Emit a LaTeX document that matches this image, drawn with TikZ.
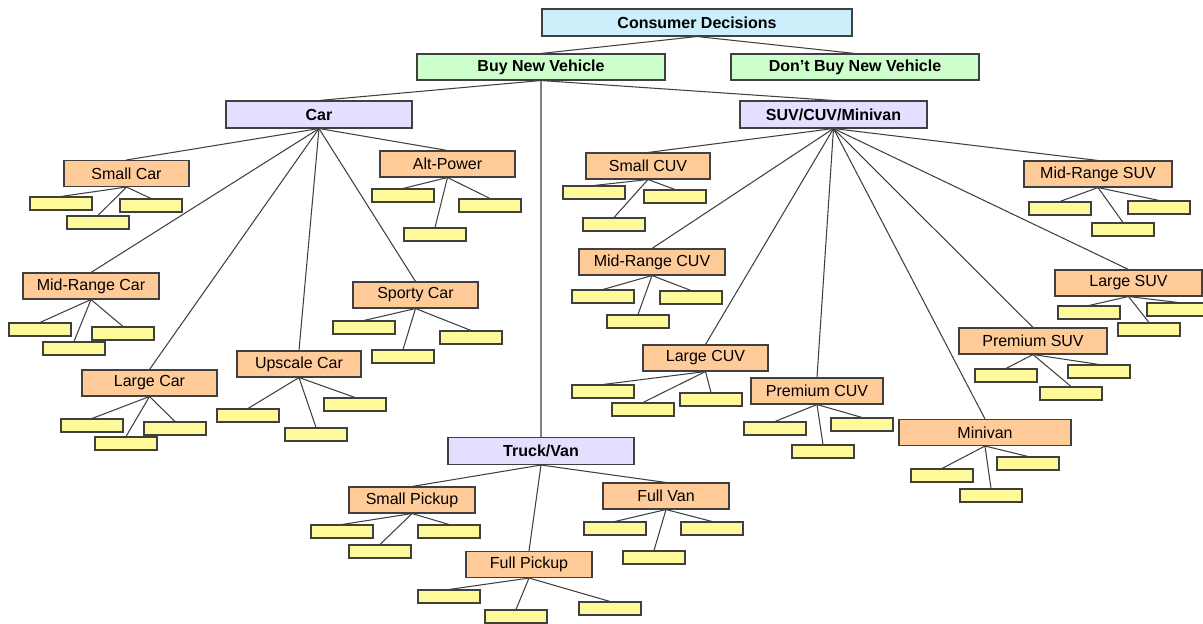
\documentclass[tikz,border=0pt]{standalone}
\usepackage{fontspec}
\setmainfont{Liberation Sans}
\usepackage{tikz}
\usetikzlibrary{positioning}
\definecolor{lavender}{HTML}{E6DEFF}

\begin{document}
\begin{tikzpicture}[
  box/.style={draw=black!75, line width=0.6pt, inner sep=0pt, minimum height=5.2mm,
    font=\fontsize{9.1}{11}\selectfont},
  root/.style={box, fill=cyan!20, font=\fontsize{9.1}{11}\selectfont\bfseries, minimum width=62mm, minimum height=5.4mm},
  choice/.style={box, fill=green!20, font=\fontsize{9.1}{11}\selectfont\bfseries, minimum width=49.6mm},
  segment/.style={box, fill=lavender, font=\fontsize{9.1}{11}\selectfont\bfseries, minimum width=37.2mm, minimum height=5.4mm},
  vclass/.style={box, fill=orange!40, minimum width=25mm},
  leaf/.style={box, fill=yellow!40, minimum width=12.4mm, minimum height=2.6mm},
  link/.style={draw=black!75, line width=0.6pt}
]
\useasboundingbox (0,0) rectangle (24.06,-12.46);

% Top of the tree
\node[root] (cd) at (13.94,-0.45) {Consumer Decisions};
\node[choice] (buy) at (10.82,-1.34) {Buy New Vehicle};
\node[choice] (nobuy) at (17.10,-1.34) {Don't Buy New Vehicle};

% Segments
\node[segment] (car) at (6.38,-2.29) {Car};
\node[segment, minimum width=37.4mm] (suv) at (16.67,-2.29) {SUV/CUV/Minivan};
\node[segment] (truck) at (10.82,-9.02) {Truck/Van};

% Car classes
\node[vclass] (smallcar) at (2.53,-3.47) {Small Car};
\node[vclass, minimum width=27mm] (altpower) at (8.95,-3.28) {Alt-Power};
\node[vclass, minimum width=27.2mm] (midcar) at (1.82,-5.72) {Mid-Range Car};
\node[vclass] (sporty) at (8.31,-5.90) {Sporty Car};
\node[vclass, minimum width=24.8mm] (upscale) at (5.98,-7.28) {Upscale Car};
\node[vclass, minimum width=27mm] (largecar) at (2.99,-7.66) {Large Car};

% SUV/CUV/Minivan classes
\node[vclass, minimum width=24.8mm] (smallcuv) at (12.96,-3.32) {Small CUV};
\node[vclass, minimum width=29.2mm] (midcuv) at (13.04,-5.24) {Mid-Range CUV};
\node[vclass] (largecuv) at (14.11,-7.16) {Large CUV};
\node[vclass, minimum width=26.4mm] (premcuv) at (16.34,-7.82) {Premium CUV};
\node[vclass, minimum width=34.4mm] (minivan) at (19.70,-8.65) {Minivan};
\node[vclass, minimum width=29.6mm] (premsuv) at (20.66,-6.82) {Premium SUV};
\node[vclass, minimum width=29.4mm] (largesuv) at (22.57,-5.66) {Large SUV};
\node[vclass, minimum width=29.6mm] (midsuv) at (21.96,-3.48) {Mid-Range SUV};

% Truck/Van classes
\node[vclass, minimum width=25.2mm] (smallpick) at (8.24,-10.00) {Small Pickup};
\node[vclass, minimum width=25.2mm] (fullvan) at (13.32,-9.92) {Full Van};
\node[vclass, minimum width=25.2mm] (fullpick) at (10.58,-11.29) {Full Pickup};

% Empty leaf boxes under each class
\node[leaf] (smallcar1) at (1.22,-4.07) {};
\node[leaf] (smallcar2) at (1.96,-4.45) {};
\node[leaf] (smallcar3) at (3.02,-4.11) {};

\node[leaf] (midcar1) at (0.80,-6.59) {};
\node[leaf] (midcar2) at (1.48,-6.97) {};
\node[leaf] (midcar3) at (2.46,-6.67) {};

\node[leaf] (altpower1) at (8.06,-3.91) {};
\node[leaf] (altpower2) at (8.70,-4.69) {};
\node[leaf] (altpower3) at (9.80,-4.11) {};

\node[leaf] (sporty1) at (7.28,-6.55) {};
\node[leaf] (sporty2) at (8.06,-7.13) {};
\node[leaf] (sporty3) at (9.42,-6.75) {};

\node[leaf] (upscale1) at (4.96,-8.31) {};
\node[leaf] (upscale2) at (6.32,-8.69) {};
\node[leaf] (upscale3) at (7.10,-8.09) {};

\node[leaf] (largecar1) at (1.84,-8.51) {};
\node[leaf] (largecar2) at (2.52,-8.87) {};
\node[leaf] (largecar3) at (3.50,-8.57) {};

\node[leaf] (smallcuv1) at (11.88,-3.85) {};
\node[leaf] (smallcuv2) at (12.28,-4.49) {};
\node[leaf] (smallcuv3) at (13.50,-3.93) {};

\node[leaf] (midcuv1) at (12.06,-5.93) {};
\node[leaf] (midcuv2) at (12.76,-6.43) {};
\node[leaf] (midcuv3) at (13.82,-5.95) {};

\node[leaf] (largecuv1) at (12.06,-7.83) {};
\node[leaf] (largecuv2) at (12.86,-8.19) {};
\node[leaf] (largecuv3) at (14.22,-7.99) {};

\node[leaf] (premcuv1) at (15.50,-8.57) {};
\node[leaf] (premcuv2) at (16.46,-9.03) {};
\node[leaf] (premcuv3) at (17.24,-8.49) {};

\node[leaf] (minivan1) at (18.84,-9.51) {};
\node[leaf] (minivan2) at (19.82,-9.91) {};
\node[leaf] (minivan3) at (20.56,-9.27) {};

\node[leaf] (premsuv1) at (20.12,-7.51) {};
\node[leaf] (premsuv2) at (21.42,-7.87) {};
\node[leaf] (premsuv3) at (21.98,-7.43) {};

\node[leaf] (largesuv1) at (21.78,-6.25) {};
\node[leaf] (largesuv2) at (22.98,-6.59) {};
\node[leaf] (largesuv3) at (23.56,-6.19) {};

\node[leaf] (midsuv1) at (21.20,-4.17) {};
\node[leaf] (midsuv2) at (22.46,-4.59) {};
\node[leaf] (midsuv3) at (23.18,-4.15) {};

\node[leaf] (smallpick1) at (6.84,-10.63) {};
\node[leaf] (smallpick2) at (7.60,-11.03) {};
\node[leaf] (smallpick3) at (8.98,-10.63) {};

\node[leaf] (fullvan1) at (12.30,-10.57) {};
\node[leaf] (fullvan2) at (13.08,-11.15) {};
\node[leaf] (fullvan3) at (14.24,-10.57) {};

\node[leaf] (fullpick1) at (8.98,-11.93) {};
\node[leaf] (fullpick2) at (10.32,-12.33) {};
\node[leaf] (fullpick3) at (12.20,-12.17) {};

% Links: top levels
\path[link] (cd.south) -- (buy.north) (cd.south) -- (nobuy.north);
\path[link] (buy.south) -- (car.north) (buy.south) -- (suv.north) (buy.south) -- (truck.north);

% Links: segments -> classes
\foreach \c in {smallcar, altpower, midcar, sporty, upscale, largecar}
  \path[link] (car.south) -- (\c.north);
\foreach \c in {smallcuv, midcuv, largecuv, premcuv, minivan, premsuv, largesuv, midsuv}
  \path[link] (suv.south) -- (\c.north);
\foreach \c in {smallpick, fullvan, fullpick}
  \path[link] (truck.south) -- (\c.north);

% Links: classes -> leaves
\foreach \c in {smallcar, midcar, altpower, sporty, upscale, largecar,
    smallcuv, midcuv, largecuv, premcuv, minivan, premsuv, largesuv, midsuv,
    smallpick, fullvan, fullpick}
  \foreach \i in {1,2,3}
    \path[link] (\c.south) -- (\c\i.north);

\end{tikzpicture}
\end{document}
